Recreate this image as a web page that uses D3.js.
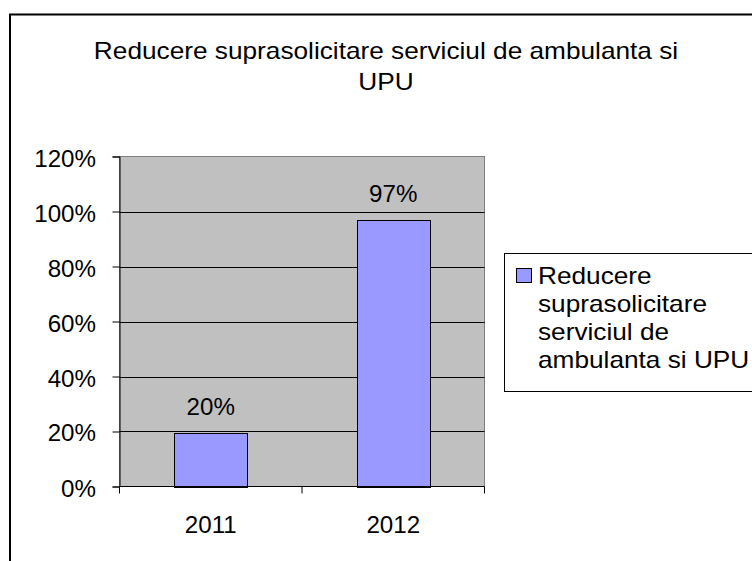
<!DOCTYPE html>
<html>
<head>
<meta charset="utf-8">
<script src="https://cdn.jsdelivr.net/npm/d3@7"></script>
<style>
  body { margin: 0; background: #fff; }
  svg { display: block; }
  text { font-family: "Liberation Sans", Arial, sans-serif; fill: #000; }
</style>
</head>
<body>
<svg width="752" height="561"></svg>
<script>
// chart data
var years = ["2011", "2012"];
var values = [0.195, 0.97];
var yTicks = [0, 0.2, 0.4, 0.6, 0.8, 1.0, 1.2];
var titleLines = ["Reducere suprasolicitare serviciul de ambulanta si", "UPU"];
var legendLines = ["Reducere", "suprasolicitare", "serviciul de", "ambulanta si UPU"];

var svg = d3.select("svg");
var stretch = 1.14;   // the picture is a bit wider than tall
var fontSize = 23;
var pct = d3.format(".0%");

// put text at x,y, stretched horizontally
var addText = function(x, y, str, anchor, sx){
    svg.append("g")
	.attr("transform", "translate(" + x + "," + y + ") scale(" + (sx || stretch) + ",1)")
	.append("text")
	.attr("text-anchor", anchor)
	.attr("font-size", fontSize)
	.text(str);
}

// outer chart frame (runs off the right and bottom)
svg.append("rect")
    .attr("x", 10).attr("y", 14.5)
    .attr("width", 800).attr("height", 600)
    .attr("fill", "#fff")
    .attr("stroke", "#000")
    .attr("stroke-width", 2);

// title
titleLines.forEach(function(t, i){
    addText(386, 59 + i * 31, t, "middle");
});

var plotL = 119.5, plotR = 484.5, plotT = 156.5, plotB = 486.5;

var x = d3.scaleBand().domain(years).range([plotL, plotR]).paddingInner(0.6).paddingOuter(0.3);
var y = d3.scaleLinear().domain([0, 1.2]).range([plotB, plotT]);

// plot area
svg.append("rect")
    .attr("x", plotL).attr("y", plotT)
    .attr("width", plotR - plotL).attr("height", plotB - plotT)
    .attr("fill", "#c0c0c0")
    .attr("stroke", "#808080");

// gridlines
svg.selectAll(".grid").data(yTicks.slice(1, -1)).enter().append("line")
    .attr("class", "grid")
    .attr("x1", plotL).attr("x2", plotR)
    .attr("y1", function(d){return Math.round(y(d)) + 0.5})
    .attr("y2", function(d){return Math.round(y(d)) + 0.5})
    .attr("stroke", "#000");

// bars
svg.selectAll(".bar").data(values).enter().append("rect")
    .attr("class", "bar")
    .attr("x", function(d, i){return Math.round(x(years[i])) + 0.5})
    .attr("y", function(d){return Math.round(y(d)) + 0.5})
    .attr("width", Math.round(x.bandwidth()))
    .attr("height", function(d){return Math.round(plotB - y(d))})
    .attr("fill", "#9999ff")
    .attr("stroke", "#000");

// value labels
values.forEach(function(v, i){
    addText(x(years[i]) + x.bandwidth() / 2, y(v) - 18, pct(v), "middle", 1.05);
});

// y axis
var yAxis = d3.axisLeft(y).tickValues(yTicks).tickSize(7).tickPadding(0).tickFormat(function(){return ""});
var yg = svg.append("g").attr("transform", "translate(" + plotL + ",0)").call(yAxis);
yg.select(".domain").attr("stroke", "#000");
yTicks.forEach(function(t){
    addText(96, Math.round(y(t)) + 10, pct(t), "end", 1.05);
});

// x axis, ticks at category edges
var xg = svg.append("g").attr("transform", "translate(0," + plotB + ")");
xg.append("line").attr("x1", plotL).attr("x2", plotR).attr("stroke", "#000");
var edges = [plotL, (plotL + plotR) / 2, plotR];
xg.selectAll(".xt").data(edges).enter().append("line")
    .attr("x1", function(d){return d}).attr("x2", function(d){return d})
    .attr("y1", 0).attr("y2", 7)
    .attr("stroke", "#000");
years.forEach(function(yr){
    addText(x(yr) + x.bandwidth() / 2, 533, yr, "middle", 1.05);
});

// legend
svg.append("rect")
    .attr("x", 504.5).attr("y", 253.5)
    .attr("width", 300).attr("height", 138)
    .attr("fill", "#fff")
    .attr("stroke", "#000");
svg.append("rect")
    .attr("x", 516.5).attr("y", 268.5)
    .attr("width", 15).attr("height", 14)
    .attr("fill", "#9999ff")
    .attr("stroke", "#000");
legendLines.forEach(function(t, i){
    addText(538, 284 + i * 28, t, "start");
});
</script>
</body>
</html>
